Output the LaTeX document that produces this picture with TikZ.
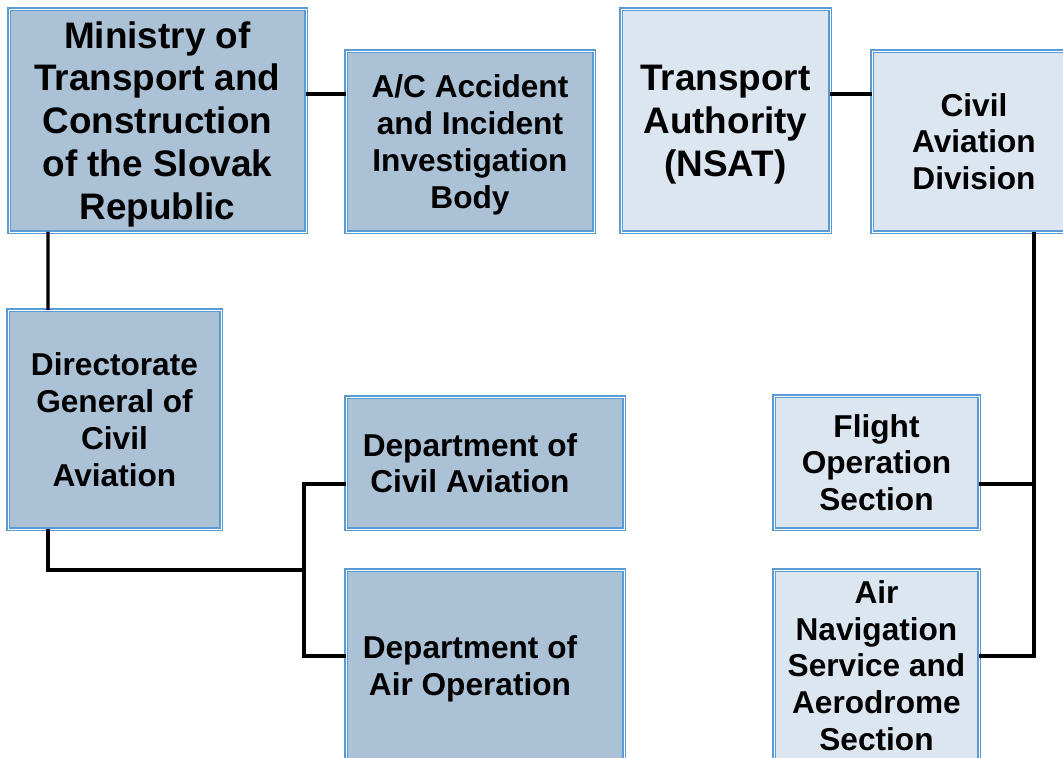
\documentclass[tikz,border=0pt]{standalone}
\usepackage{fontspec}
\setmainfont{Liberation Sans}
\definecolor{boxdark}{RGB}{171,193,214}
\definecolor{boxlight}{RGB}{220,230,241}
\definecolor{boxline}{RGB}{91,155,213}
\begin{document}
\begin{tikzpicture}[x=0.02cm, y=-0.02cm,
	orgbox/.style={anchor=north west, draw=boxline, line width=1pt, double=white, double distance=0.45pt, outer sep=0pt, inner sep=2pt, align=center, text depth=0pt, font=\fontsize{18}{21}\selectfont\bfseries},
	darkbox/.style={orgbox, fill=boxdark},
	lightbox/.style={orgbox, fill=boxlight},
	bigtext/.style={font=\fontsize{21}{24.4}\selectfont\bfseries},
	boxtext/.style={align=center, inner sep=0pt, text depth=0pt, font=\fontsize{18}{21}\selectfont\bfseries},
	conn/.style={line width=1.9pt, black}]
	\useasboundingbox (0,0) rectangle (1063,758);
	
	% top row
	\node[darkbox, bigtext, minimum width=5.94cm, minimum height=4.46cm] (min) at (9,9) {Ministry of\\Transport and\\Construction\\of the Slovak\\Republic};
	\node[darkbox, minimum width=4.96cm, minimum height=3.62cm] (acc) at (346,51) {A/C Accident\\and Incident\\Investigation\\Body};
	\node[lightbox, bigtext, minimum width=4.18cm, minimum height=4.46cm] (ta) at (621,9) {Transport\\Authority\\(NSAT)};
	\node[lightbox, minimum width=4.08cm, minimum height=3.62cm] (cad) at (872,51) {Civil\\Aviation\\Division};
	
	% left branch
	\node[darkbox, minimum width=4.26cm, minimum height=4.38cm] (dgca) at (8,310) {Directorate\\General of\\Civil\\Aviation};
	\node[darkbox, minimum width=5.56cm, minimum height=2.64cm] (dca) at (346,397) {};
	\node[boxtext] (dcaText) at ([xshift=-0.3cm]dca.center) {Department of\\Civil Aviation};
	\node[darkbox, minimum width=5.56cm, minimum height=3.82cm] (dao) at (346,570) {};
	\node[boxtext] (daoText) at ([xshift=-0.3cm]dao.center) {Department of\\Air Operation};
	
	% right branch
	\node[lightbox, minimum width=4.10cm, minimum height=2.66cm] (fos) at (774,396) {Flight\\Operation\\Section};
	\node[lightbox, minimum width=4.10cm, minimum height=3.82cm] (ans) at (774,570) {Air\\Navigation\\Service and\\Aerodrome\\Section};
	
	% bus points
	\coordinate (topLink) at (0,94);
	\coordinate (busW) at (304,484);
	\coordinate (busWmid) at (304,570);
	\coordinate (busWlow) at (304,656);
	\coordinate (busE) at (1034,484);
	\coordinate (busElow) at (1034,656);
	
	\draw[conn] (min.east |- topLink) -- (acc.west |- topLink);
	\draw[conn] (ta.east |- topLink) -- (cad.west |- topLink);
	\draw[conn] ([xshift=0.78cm]min.south west) -- ([xshift=0.8cm]dgca.north west);
	\draw[conn] ([xshift=0.8cm]dgca.south west) |- (busWmid);
	\draw[conn] (busW -| dca.west) -- (busW) -- (busWlow) -- (busWlow -| dao.west);
	\draw[conn] (cad.south -| busE) -- (busElow) -- (busElow -| ans.east);
	\draw[conn] (busE) -- (busE -| fos.east);
\end{tikzpicture}
\end{document}
